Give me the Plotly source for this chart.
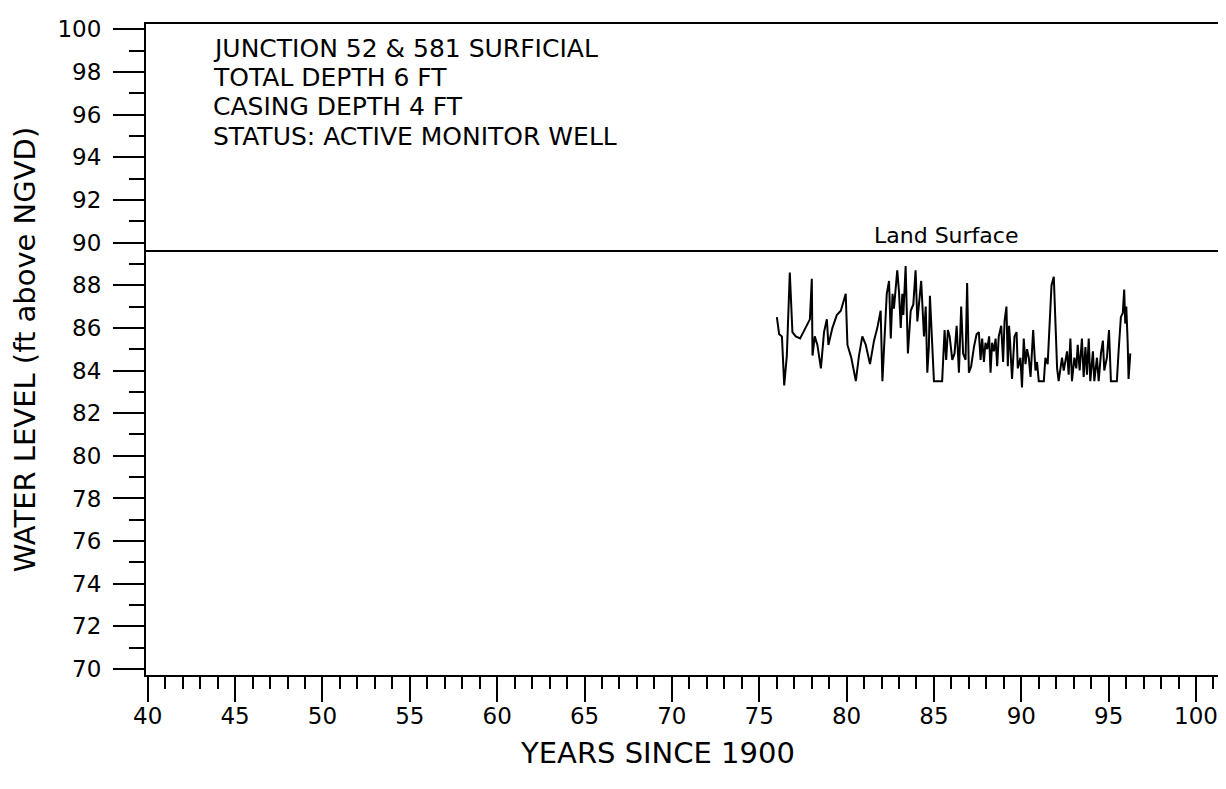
import plotly.graph_objects as go

# Water level record (years since 1900, ft above NGVD)
years = [76.01, 76.14, 76.30, 76.43, 76.58, 76.75, 76.90, 77.09, 77.34, 77.67,
         77.90, 78.01, 78.05, 78.18, 78.33, 78.53, 78.71, 78.87, 78.96, 79.19,
         79.44, 79.67, 79.86, 79.95, 80.05, 80.27, 80.53, 80.71, 80.90, 81.10,
         81.34, 81.57, 81.76, 81.95, 82.05, 82.18, 82.30, 82.43, 82.53, 82.63,
         82.71, 82.90, 83.00, 83.10, 83.19, 83.25, 83.38, 83.51, 83.67, 83.82,
         83.95, 84.05, 84.20, 84.27, 84.43, 84.53, 84.62, 84.71, 84.77, 84.85,
         85.00, 85.47, 85.61, 85.70, 85.80, 85.90, 86.05, 86.18, 86.30, 86.43,
         86.56, 86.67, 86.81, 86.90, 87.00, 87.13, 87.29, 87.44, 87.57, 87.67,
         87.76, 87.86, 87.95, 88.05, 88.16, 88.24, 88.33, 88.43, 88.53, 88.62,
         88.71, 88.85, 88.96, 89.04, 89.15, 89.23, 89.30, 89.34, 89.47, 89.61,
         89.73, 89.80, 89.95, 90.04, 90.14, 90.24, 90.33, 90.43, 90.53, 90.68,
         90.81, 90.90, 91.00, 91.29, 91.38, 91.51, 91.63, 91.73, 91.86, 91.95,
         92.05, 92.14, 92.33, 92.43, 92.62, 92.71, 92.81, 92.90, 93.04, 93.15,
         93.23, 93.34, 93.47, 93.57, 93.67, 93.76, 93.86, 93.95, 94.10, 94.18,
         94.33, 94.43, 94.56, 94.67, 94.75, 94.90, 95.02, 95.13, 95.47, 95.57,
         95.70, 95.81, 95.89, 95.95, 96.01, 96.09, 96.14, 96.24]

levels = [86.5, 85.7, 85.6, 83.3, 84.7, 88.6, 85.8, 85.6, 85.5, 86.0,
          86.4, 88.3, 84.7, 85.6, 85.2, 84.1, 85.8, 86.4, 85.2, 86.0,
          86.6, 86.8, 87.3, 87.6, 85.2, 84.6, 83.5, 84.7, 85.6, 85.2,
          84.3, 85.4, 86.0, 86.8, 83.5, 86.0, 87.6, 88.2, 85.5, 87.6,
          86.9, 88.7, 87.7, 86.0, 87.6, 86.6, 88.9, 84.8, 86.8, 87.1,
          88.7, 86.3, 87.6, 88.2, 85.6, 87.0, 83.9, 85.1, 87.5, 86.0,
          83.5, 83.5, 85.9, 84.5, 85.9, 85.6, 84.5, 84.8, 86.1, 83.9,
          87.0, 84.8, 84.5, 88.1, 83.9, 84.2, 85.1, 85.7, 85.8, 84.5,
          85.5, 84.4, 85.3, 85.0, 85.6, 83.9, 85.3, 84.9, 85.5, 84.2,
          85.6, 86.1, 84.4, 86.3, 87.0, 84.2, 86.1, 85.6, 83.6, 85.6,
          85.8, 84.1, 84.6, 83.2, 85.5, 84.3, 85.0, 84.6, 83.7, 85.9,
          84.0, 84.4, 83.5, 83.5, 84.6, 84.3, 86.3, 88.0, 88.4, 86.1,
          84.1, 83.5, 84.6, 84.0, 84.9, 83.8, 85.5, 83.5, 84.6, 84.1,
          85.2, 84.0, 85.5, 83.7, 85.1, 83.8, 85.5, 83.5, 84.9, 83.5,
          84.6, 83.5, 84.8, 85.4, 84.0, 84.6, 85.9, 83.5, 83.5, 84.9,
          86.5, 86.7, 87.8, 86.2, 87.0, 85.3, 83.6, 84.8]

land_surface = 89.6
x_major = [40, 45, 50, 55, 60, 65, 70, 75, 80, 85, 90, 95, 100]
y_major = [70, 72, 74, 76, 78, 80, 82, 84, 86, 88, 90, 92, 94, 96, 98, 100]
info_lines = ["JUNCTION 52 & 581 SURFICIAL", "TOTAL DEPTH 6 FT",
              "CASING DEPTH 4 FT", "STATUS: ACTIVE MONITOR WELL"]

FONT = "DejaVu Sans"
PLOT_TOP = 16
PLOT_H = 651
PLOT_L = 138
PLOT_W = 1081

fig = go.Figure()
fig.add_trace(go.Scatter(x=years, y=levels, mode="lines",
                         line=dict(color="black", width=2),
                         showlegend=False, hoverinfo="skip"))

fig.add_shape(type="line", xref="paper", x0=0, x1=1, yref="y",
              y0=land_surface, y1=land_surface,
              line=dict(color="black", width=2))
fig.add_annotation(x=85.7, y=land_surface, xref="x", yref="y",
                   text="Land Surface", showarrow=False, yanchor="bottom",
                   yshift=1, font=dict(family=FONT, size=22, color="black"))

for i, line in enumerate(info_lines):
    fig.add_annotation(x=(203 - PLOT_L) / PLOT_W,
                       y=1 - (41 + 29 * i - PLOT_TOP) / PLOT_H,
                       xref="paper", yref="paper", text=line, showarrow=False,
                       xanchor="left", yanchor="middle",
                       font=dict(family=FONT, size=25, color="black"))

# x-axis title, centred where the reference centres it
fig.add_annotation(x=(650 - PLOT_L) / PLOT_W,
                   y=1 - (745 - PLOT_TOP) / PLOT_H,
                   xref="paper", yref="paper",
                   text="YEARS SINCE 1900", showarrow=False,
                   yanchor="middle", xanchor="center",
                   font=dict(family=FONT, size=29, color="black"))

axis_common = dict(showline=True, mirror=True, linecolor="black", linewidth=2,
                   showgrid=False, zeroline=False, ticks="outside",
                   tickcolor="black", tickwidth=1.6,
                   tickfont=dict(family=FONT, size=23, color="black"))

fig.update_xaxes(range=[39.9, 101.66], tickvals=x_major,
                 ticktext=[str(v) for v in x_major], ticklen=25,
                 minor=dict(dtick=1, tick0=40, ticks="outside", ticklen=12,
                            tickcolor="black", tickwidth=1.6),
                 ticklabelstandoff=-6,
                 **axis_common)
fig.update_yaxes(range=[69.72, 100.25], tickvals=y_major,
                 ticktext=[str(v) for v in y_major], ticklen=31,
                 minor=dict(dtick=1, tick0=70, ticks="outside", ticklen=15,
                            tickcolor="black", tickwidth=1.6),
                 ticklabelstandoff=7,
                 title=dict(text="WATER LEVEL (ft above NGVD)", standoff=16,
                            font=dict(family=FONT, size=29, color="black")),
                 **axis_common)

fig.update_layout(width=1226, height=789,
                  margin=dict(l=PLOT_L, r=1226 - PLOT_L - PLOT_W, t=PLOT_TOP,
                              b=789 - PLOT_TOP - PLOT_H),
                  paper_bgcolor="white", plot_bgcolor="white")

fig.write_html("out.html")
